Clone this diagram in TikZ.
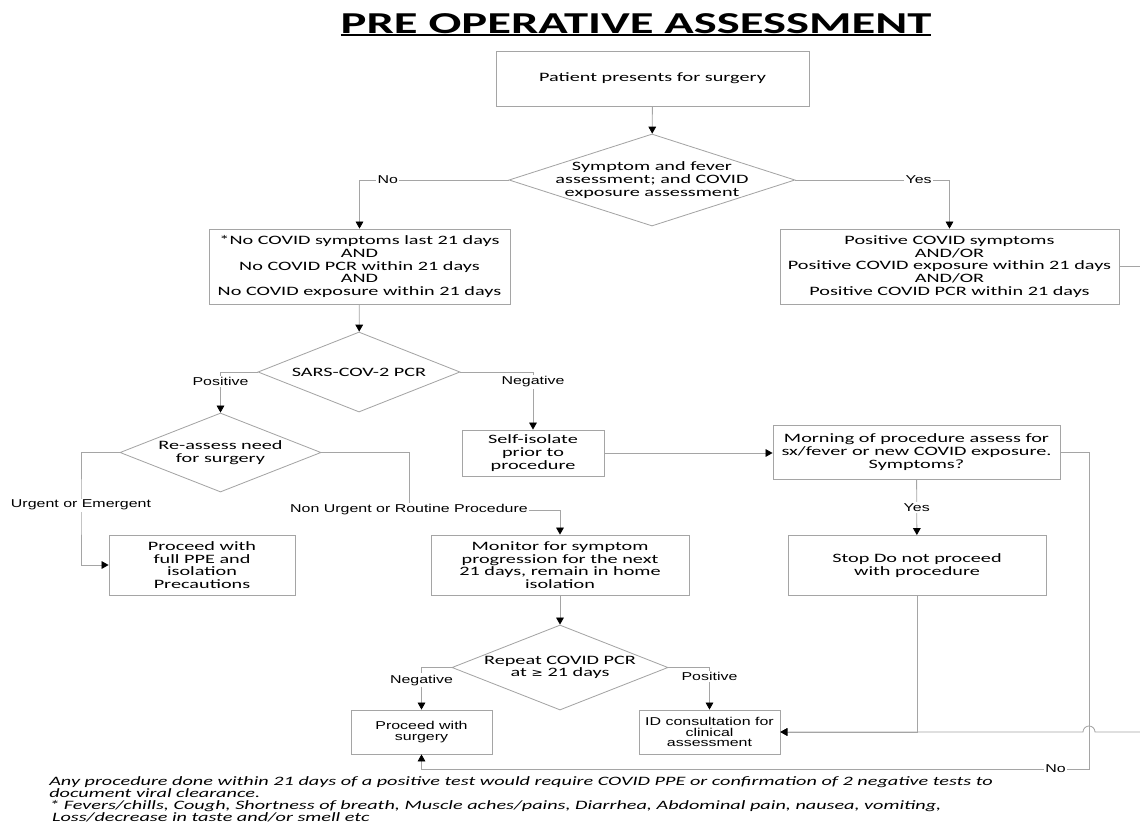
\documentclass[tikz,border=0pt]{standalone}
\usepackage{fontspec}
\setmainfont{Carlito}[FakeStretch=1.58]
\newfontfamily\arialfont{Liberation Sans}[FakeStretch=1.4]
\newfontfamily\titlefont{Carlito}[FakeStretch=1.6]
\newfontfamily\symfont{DejaVu Sans}[FakeStretch=1.3]
\newcommand{\thickul}[1]{\setbox0\hbox{#1}\rlap{\rule[-2.2pt]{\wd0}{1.8pt}}\box0}
\usetikzlibrary{shapes.geometric, arrows.meta}
\definecolor{linegray}{RGB}{165,165,165}
\tikzset{
    normal/.style={draw=linegray, semithick},
    box/.style={style=normal, rectangle, inner sep=0pt, align=center, font=\fontsize{9.1}{9}\selectfont},
    abox/.style={style=box, font=\arialfont\fontsize{8.1}{7.5}\selectfont}, % boxes set in arial
    dec/.style={style=normal, diamond, inner sep=0pt}, % decision, text put on it separately
    dtext/.style={align=center, inner sep=0pt, font=\fontsize{9.1}{9}\selectfont},
    e/.style={style=normal, ->, >={Triangle[black, length=5pt, width=5.5pt]}},
    l/.style={fill=white, inner sep=1pt, font=\arialfont\fontsize{8.1}{9}\selectfont}, % labels on edges
    note/.style={align=left, inner sep=0pt, font=\itshape\fontsize{9.1}{8.6}\selectfont}
}

\begin{document}
\begin{tikzpicture}[x=0.025cm, y=-0.025cm]
        \useasboundingbox (0, 0) rectangle (1140, 823);
        \clip (0, 0) rectangle (1140, 823);

        \node[anchor=base, inner sep=0pt, font=\titlefont\bfseries\fontsize{21.6}{24}\selectfont] (title) at (636, 33) {\thickul{PRE OPERATIVE ASSESSMENT}};

        \node[box, minimum width=7.825cm, minimum height=1.375cm] (start) at (652.5, 78.5) {Patient presents for surgery};

        \node[dec, minimum width=7.15cm, minimum height=2.3cm] (dec1) at (652, 180) {};
        \node[dtext] (dec1t) at (dec1) {Symptom and fever\\assessment; and COVID\\exposure assessment};

        \node[box, minimum width=7.525cm, minimum height=1.875cm] (nocovid) at (359.5, 266.5) {*No COVID symptoms last 21 days\\AND\\No COVID PCR within 21 days\\AND\\No COVID exposure within 21 days};
        \node[box, minimum width=8.475cm, minimum height=1.875cm] (poscovid) at (949.5, 266.5) {Positive COVID symptoms\\AND/OR\\Positive COVID exposure within 21 days\\AND/OR\\Positive COVID PCR within 21 days};

        \node[dec, minimum width=5.05cm, minimum height=2cm] (pcr) at (359, 372) {};
        \node[dtext] (pcrt) at (pcr) {SARS-COV-2 PCR};

        \node[dec, minimum width=5.025cm, minimum height=1.975cm] (reassess) at (220.5, 452.5) {};
        \node[dtext] (reassesst) at (reassess) {Re-assess need\\for surgery};

        \node[box, minimum width=3.55cm, minimum height=1.15cm] (selfiso) at (533, 453) {Self-isolate\\prior to\\procedure};
        \node[box, minimum width=7.175cm, minimum height=1.35cm] (morning) at (916.5, 452) {Morning of procedure assess for\\sx/fever or new COVID exposure.\\Symptoms?};

        \node[box, minimum width=4.65cm, minimum height=1.5cm] (ppe) at (202, 565) {Proceed with\\full PPE and\\isolation\\Precautions};
        \node[box, minimum width=6.45cm, minimum height=1.5cm] (monitor) at (560, 565) {Monitor for symptom\\progression for the next\\21 days, remain in home\\isolation};
        \node[box, minimum width=6.45cm, minimum height=1.5cm] (stop) at (917, 565.5) {Stop Do not proceed\\with procedure};

        \node[dec, minimum width=5.4cm, minimum height=2.125cm] (repeat) at (560, 667.5) {};
        \node[dtext] (repeatt) at (repeat) {Repeat COVID PCR\\at {\symfont\fontsize{7.6}{9}\selectfont ≥} 21 days};

        \node[abox, minimum width=3.525cm, minimum height=1.1cm] (surgery) at (421.5, 732) {Proceed with\\surgery};
        \node[abox, minimum width=3.525cm, minimum height=1.1cm] (idc) at (709.5, 732) {ID consultation for\\clinical\\assessment};

        \coordinate (urgbend) at (81, 505);
        \coordinate (nonbend) at (409, 510);
        \coordinate (nobend) at (1089, 769);
        \coordinate (offpage) at (1170, 500);
        \coordinate (bridge) at (1089, 732);

        \draw[e] (start) -- (dec1);
        \draw[e] (dec1.west) -| node[l, pos=0.405] {No} (nocovid.north);
        \draw[e] (dec1.east) -| node[l, pos=0.4] {Yes} (poscovid.north);
        \draw[e] (nocovid) -- (pcr);
        \draw[e] (pcr.west) -| node[l, pos=0.62] {Positive} (reassess.north);
        \draw[e] (pcr.east) -| node[l, pos=0.585] {Negative} (selfiso.north);
        \draw[e] (reassess.west) -| (urgbend) node[l] {Urgent or Emergent} |- (ppe.west);
        \draw[e] (reassess.east) -| (nonbend) node[l] {Non Urgent or Routine Procedure} -| (monitor.north);
        \draw[e] (selfiso) -- (selfiso -| morning.west);
        \draw[e] (morning) -- node[l] {Yes} (stop);
        \draw[e] (monitor) -- (repeat);
        \draw[e] (repeat.west) -| node[l, pos=0.65] {Negative} (surgery.north);
        \draw[e] (repeat.east) -| node[l, pos=0.61] {Positive} (idc.north);
        \draw[e] (stop) |- (idc);
        \draw[e] (morning.east) -| (nobend) -| node[l, pos=0.025] {No} (surgery.south);
        \draw[e] (poscovid.east) -| (offpage) |- ([xshift=0.15cm]bridge) arc[start angle=0, end angle=180, radius=0.15cm] -- (idc.east);

        \node[note, anchor=north west] (notes) at (49, 776) {Any procedure done within 21 days of a positive test would require COVID PPE or confirmation of 2 negative tests to\\document viral clearance.\\* Fevers/chills, Cough, Shortness of breath, Muscle aches/pains, Diarrhea, Abdominal pain, nausea, vomiting,\\\hspace{2pt}Loss/decrease in taste and/or smell etc};
      \end{tikzpicture}
\end{document}
